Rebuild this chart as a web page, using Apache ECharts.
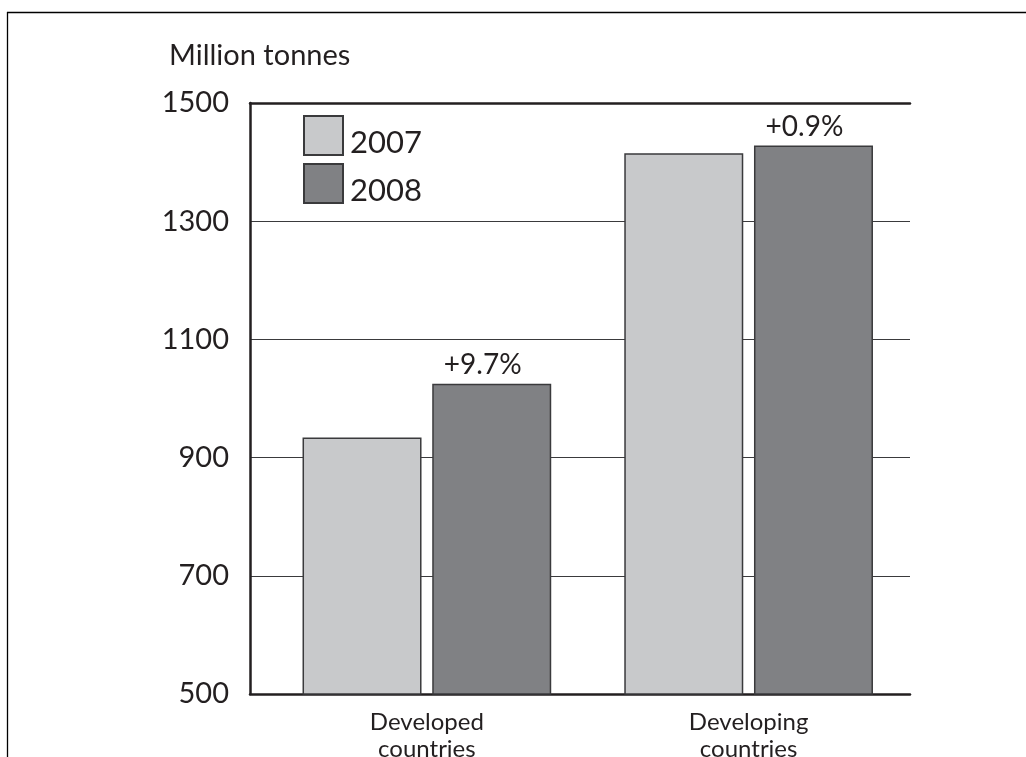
<!DOCTYPE html>
<html>
<head>
<meta charset="utf-8">
<style>
  html, body { margin: 0; padding: 0; background: #ffffff; }
  #chart { width: 1026px; height: 757px; }
</style>
<script src="https://cdn.jsdelivr.net/npm/echarts@6/dist/echarts.min.js"></script>
</head>
<body>
<div id="chart"></div>
<script>
// Output by country group, million tonnes
const categories = ['Developed\ncountries', 'Developing\ncountries'];
const years = ['2007', '2008'];
const values2007 = [934, 1415];
const values2008 = [1025, 1428];
const yTicks = { min: 500, max: 1500, step: 200 };

const INK = '#231f20';
const FONT = 'Lato, "Open Sans", sans-serif';

// Year-on-year change, shown above the 2008 bars
function growthLabel(i) {
  const pct = (values2008[i] / values2007[i] - 1) * 100;
  return (pct >= 0 ? '+' : '') + pct.toFixed(1) + '%';
}

const chart = echarts.init(document.getElementById('chart'), null, { renderer: 'canvas' });

const barBorder = { borderColor: '#3a3a3c', borderWidth: 1.5 };

chart.setOption({
  animation: false,
  backgroundColor: '#ffffff',
  textStyle: { fontFamily: FONT, color: INK },
  title: {
    text: 'Million tonnes',
    left: 164,
    top: 36,
    textStyle: { fontFamily: FONT, fontSize: 29, fontWeight: 'normal', color: INK }
  },
  legend: {
    data: years,
    orient: 'vertical',
    left: 303,
    top: 115,
    padding: 0,
    itemWidth: 39,
    itemHeight: 39,
    itemGap: 5,
    icon: 'rect',
    formatter: '{yr|{name}}',
    textStyle: {
      fontFamily: FONT, fontSize: 31, color: INK,
      rich: { yr: { fontFamily: FONT, fontSize: 31, color: INK, padding: [14, 0, 0, 2] } }
    },
    selectedMode: false
  },
  grid: [
    // frame for the axes and gridlines
    { left: 250, right: 116, top: 103, bottom: 63, outerBoundsMode: 'none' },
    // band layout for the bars
    { left: 266, right: 116.5, top: 103, bottom: 63, outerBoundsMode: 'none' }
  ],
  xAxis: [
    { gridIndex: 0, type: 'value', position: 'bottom', min: 0, max: 1,
      axisLine: { show: true, lineStyle: { color: INK, width: 2.5 } },
      axisTick: { show: false }, axisLabel: { show: false }, splitLine: { show: false } },
    { gridIndex: 0, type: 'value', position: 'top', min: 0, max: 1,
      axisLine: { show: true, lineStyle: { color: INK, width: 2.5 } },
      axisTick: { show: false }, axisLabel: { show: false }, splitLine: { show: false } },
    { gridIndex: 1, type: 'category', data: categories,
      axisLine: { show: false }, axisTick: { show: false },
      axisLabel: { fontFamily: FONT, fontSize: 24, lineHeight: 27, color: INK, margin: 15 } }
  ],
  yAxis: [
    { gridIndex: 0, type: 'value', min: yTicks.min, max: yTicks.max, interval: yTicks.step,
      axisLine: { show: true, lineStyle: { color: INK, width: 2.5 } },
      axisTick: { show: false },
      axisLabel: { fontFamily: FONT, fontSize: 29, color: INK, margin: 21, formatter: v => String(v) },
      splitLine: { show: true, lineStyle: { color: '#3a3a3c', width: 1.2 } } },
    { gridIndex: 1, type: 'value', min: yTicks.min, max: yTicks.max, show: false,
      splitLine: { show: false } }
  ],
  series: [
    {
      name: years[0], type: 'bar', xAxisIndex: 2, yAxisIndex: 1,
      data: values2007, barWidth: 119, barGap: '9%',
      itemStyle: Object.assign({ color: '#c8c9cb' }, barBorder)
    },
    {
      name: years[1], type: 'bar', xAxisIndex: 2, yAxisIndex: 1,
      data: values2008, barWidth: 119, barGap: '9%',
      itemStyle: Object.assign({ color: '#808184' }, barBorder),
      label: {
        show: true, position: 'top', distance: 5, offset: [-9, 0],
        fontFamily: FONT, fontSize: 28, color: INK,
        formatter: p => growthLabel(p.dataIndex)
      }
    }
  ],
  graphic: [
    { type: 'line', shape: { x1: 7.5, y1: 12, x2: 7.5, y2: 757 }, style: { stroke: '#000', lineWidth: 1.3 }, silent: true },
    { type: 'line', shape: { x1: 7, y1: 12.5, x2: 1026, y2: 12.5 }, style: { stroke: '#000', lineWidth: 1.3 }, silent: true }
  ]
});
</script>
</body>
</html>
